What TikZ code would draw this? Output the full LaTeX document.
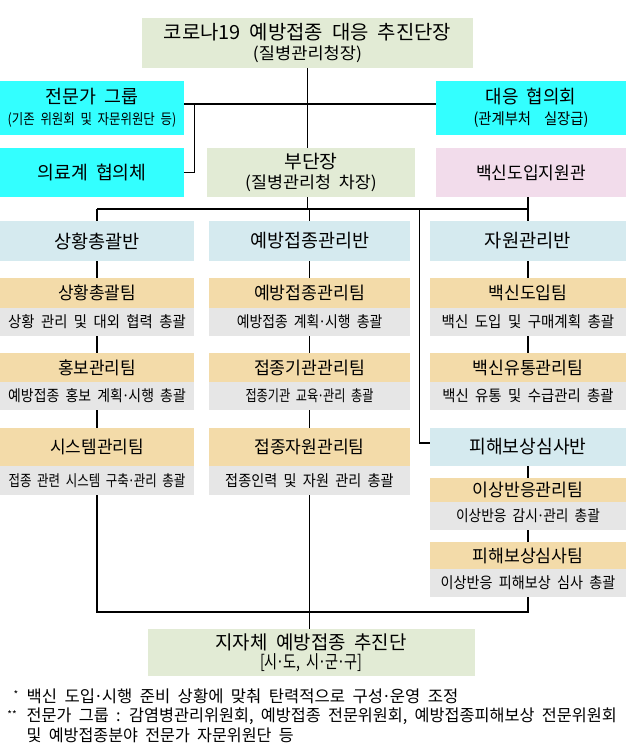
\documentclass[tikz,border=0pt]{standalone}
\usepackage{graphicx}
\usepackage{fontspec}
\setmainfont{Noto Sans CJK KR}[WordSpace=2.0]
\definecolor{lgreen}{HTML}{E2EBD5}
\definecolor{cyanbox}{HTML}{33FFFF}
\definecolor{pinkbox}{HTML}{F2DCEB}
\definecolor{lblue}{HTML}{D5EAEF}
\definecolor{tanbox}{HTML}{F3DBA9}
\definecolor{graybox}{HTML}{E6E6E6}
\newcommand{\hw}[2]{\resizebox{#1pt}{\height}{#2}}
\newcommand{\md}{\kern-0.08em·\kern-0.08em}
\begin{document}
\begin{tikzpicture}[x=1pt,y=-1pt,
  every node/.style={inner sep=0pt, outer sep=0pt, text=black},
  bx/.style n args={3}{fill=#1, minimum width=#2pt, minimum height=#3pt, align=center},
  ln/.style={line width=1.2pt, black},
  fban/.style={font=\fontsize{18.5}{21}\selectfont},
  fteam/.style={font=\fontsize{17.5}{20}\selectfont},
  fdesc/.style={font=\fontsize{15.5}{18}\selectfont},
  fnote/.style={font=\fontsize{16.5}{19}\selectfont, anchor=west}]
\useasboundingbox (0,0) rectangle (644,754);

% top level
\node[bx={lgreen}{331}{50}, font=\fontsize{19.5}{20.5}\selectfont] (top) at (307.5,43)
  {\hw{287.7}{코로나19 예방접종 대응 추진단장}\\\hw{109}{\fontsize{16.5}{18}\selectfont(질병관리청장)}};
\node[bx={cyanbox}{184}{54}, font=\fontsize{18.5}{21}\selectfont] (expert) at (92,108)
  {\hw{93}{전문가 그룹}\\\hw{168.5}{\fontsize{14.5}{16}\selectfont(기존 위원회 및 자문위원단 등)}};
\node[bx={cyanbox}{190}{54}, font=\fontsize{18.5}{20.5}\selectfont] (daeung) at (531,108)
  {\hw{90.4}{대응 협의회}\\\hw{115}{\fontsize{15.5}{16}\selectfont(관계부처\ \ 실장급)}};
\node[bx={cyanbox}{184}{49}, font=\fontsize{18.5}{20}\selectfont] (medical) at (92,172.5)
  {\hw{109}{의료계 협의체}};
\node[bx={lgreen}{208}{49}, font=\fontsize{18.5}{20.5}\selectfont] (bu) at (311,172.5)
  {\hw{53.4}{부단장}\\\hw{131.5}{\fontsize{16.5}{18}\selectfont(질병관리청 차장)}};
\node[bx={pinkbox}{190}{49}, font=\fontsize{17.5}{19}\selectfont] (vaxsup) at (531,172.5)
  {\hw{109.7}{백신도입지원관}};

% column heads
\node[bx={lblue}{194}{40}, fban] (A0) at (97,241) {\hw{85.5}{상황총괄반}};
\node[bx={lblue}{201}{40}, fban] (B0) at (309.5,241) {\hw{119}{예방접종관리반}};
\node[bx={lblue}{196}{40}, fban] (C0) at (528,241) {\hw{86.3}{자원관리반}};

% row 1
\node[bx={tanbox}{194}{30}, fteam] (A1h) at (97,293) {\hw{78}{상황총괄팀}};
\node[bx={graybox}{194}{28}, fdesc] (A1d) at (97,322) {\hw{177.6}{상황 관리 및 대외 협력 총괄}};
\node[bx={tanbox}{201}{30}, fteam] (B1h) at (309.5,293) {\hw{111}{예방접종관리팀}};
\node[bx={graybox}{201}{28}, fdesc] (B1d) at (309.5,322) {\hw{145.5}{예방접종 계획\md 시행 총괄}};
\node[bx={tanbox}{196}{30}, fteam] (C1h) at (528,293) {\hw{79}{백신도입팀}};
\node[bx={graybox}{196}{28}, fdesc] (C1d) at (528,322) {\hw{172.6}{백신 도입 및 구매계획 총괄}};

% row 2
\node[bx={tanbox}{194}{29}, fteam] (A2h) at (97,367.5) {\hw{78}{홍보관리팀}};
\node[bx={graybox}{194}{28}, fdesc] (A2d) at (97,396) {\hw{177.6}{예방접종 홍보 계획\md 시행 총괄}};
\node[bx={tanbox}{201}{29}, fteam] (B2h) at (309.5,367.5) {\hw{111}{접종기관관리팀}};
\node[bx={graybox}{201}{28}, fdesc] (B2d) at (309.5,396) {\hw{128}{접종기관 교육\md 관리 총괄}};
\node[bx={tanbox}{196}{29}, fteam] (C2h) at (528,367.5) {\hw{111}{백신유통관리팀}};
\node[bx={graybox}{196}{28}, fdesc] (C2d) at (528,396) {\hw{171.4}{백신 유통 및 수급관리 총괄}};

% row 3
\node[bx={tanbox}{194}{38}, fteam] (A3h) at (97,447) {\hw{93.7}{시스템관리팀}};
\node[bx={graybox}{194}{29}, fdesc] (A3d) at (97,480.5) {\hw{176.7}{접종 관련 시스템 구축\md 관리 총괄}};
\node[bx={tanbox}{201}{38}, fteam] (B3h) at (309.5,447) {\hw{110}{접종자원관리팀}};
\node[bx={graybox}{201}{29}, fdesc] (B3d) at (309.5,480.5) {\hw{168.5}{접종인력 및 자원 관리 총괄}};
\node[bx={lblue}{196}{38}, fban] (C3) at (528,447) {\hw{117}{피해보상심사반}};

% right column lower teams
\node[bx={tanbox}{196}{24}, fteam] (C4h) at (528,490) {\hw{111}{이상반응관리팀}};
\node[bx={graybox}{196}{28}, fdesc] (C4d) at (528,516) {\hw{143.9}{이상반응 감시\md 관리 총괄}};
\node[bx={tanbox}{196}{27}, fteam] (C5h) at (528,555.5) {\hw{111}{피해보상심사팀}};
\node[bx={graybox}{196}{28}, fdesc] (C5d) at (528,583) {\hw{174.7}{이상반응 피해보상 심사 총괄}};

% local
\node[bx={lgreen}{327}{47}, font=\fontsize{19}{19}\selectfont] (local) at (311,652.5)
  {\hw{191}{지자체 예방접종 추진단}\\\hw{102}{\fontsize{18}{19}\selectfont[시\md 도, 시\md 군\md 구]}};

% notes
\node[font=\fontsize{10}{11}\selectfont] (s1) at (16,695) {*};
\node[fnote] (n1) at (26.7,696) {\hw{431.6}{백신 도입\md 시행 준비 상황에 맞춰 탄력적으로 구성\md 운영 조정}};
\node[font=\fontsize{10}{11}\selectfont] (s2) at (12,714.5) {**};
\node[fnote] (n2) at (26.7,716) {\hw{590}{전문가 그룹 : 감염병관리위원회, 예방접종 전문위원회, 예방접종피해보상 전문위원회}};
\node[fnote] (n3) at (26.7,735) {\hw{267}{및 예방접종분야 전문가 자문위원단 등}};

% connectors
\coordinate (j1) at (194.4,104);
\coordinate (busL) at (97,209);
\coordinate (busR) at (528,209);
\coordinate (busJ) at (419.6,209);
\coordinate (botR) at (528,612);

\draw[ln] (top.south) -- (top.south |- bu.north);
\draw[ln] (top.south |- bu.south) -- (top.south |- busL);
\draw[ln] ([yshift=4pt]expert.east) -- ([yshift=4pt]daeung.west);
\draw[ln] (j1) |- (medical.east);
\draw[ln] (busL) -- (busR);
\draw[ln] (busL) -- (A0.north);
\draw[ln] (B0.north |- busL) -- (B0.north);
\draw[ln] (C0.north |- vaxsup.south) -- (C0.north);
\draw[ln] (busJ) |- ([yshift=4pt]C3.west);

\draw[ln] (A0.south) -- (A1h.north);
\draw[ln] (A1d.south) -- (A2h.north);
\draw[ln] (A2d.south) -- (A3h.north);
\draw[ln] (B0.south) -- (B1h.north);
\draw[ln] (B1d.south) -- (B2h.north);
\draw[ln] (B2d.south) -- (B3h.north);
\draw[ln] (C0.south) -- (C1h.north);
\draw[ln] (C1d.south) -- (C2h.north);
\draw[ln] (C3.south) -- (C4h.north);
\draw[ln] (C4d.south) -- (C5h.north);

\draw[ln] (A3d.south) |- (botR) -- (C5d.south);
\draw[ln] (B3d.south) -- (B3d.south |- local.north);
\end{tikzpicture}
\end{document}
